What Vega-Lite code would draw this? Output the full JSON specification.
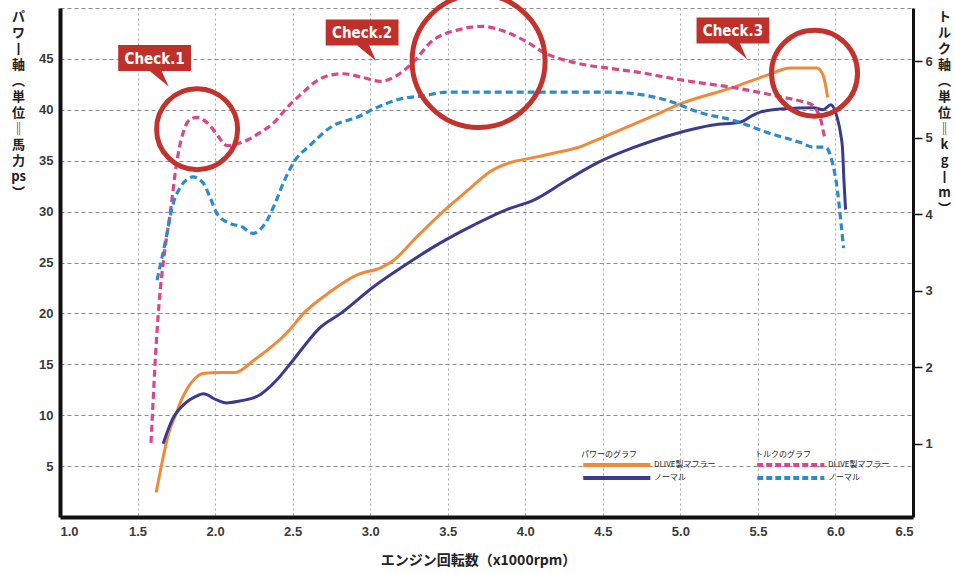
{
  "$schema": "https://vega.github.io/schema/vega-lite/v6.json",
  "width": 853,
  "height": 509,
  "autosize": "none",
  "padding": {"left": 60, "top": 8, "right": 42, "bottom": 56},
  "background": "white",
  "datasets": {
    "power": [
      {"rpm": 1.62, "ps": 2.4, "series": "DLIVE製マフラー"},
      {"rpm": 1.66, "ps": 5.5, "series": "DLIVE製マフラー"},
      {"rpm": 1.7, "ps": 8.2, "series": "DLIVE製マフラー"},
      {"rpm": 1.75, "ps": 10.2, "series": "DLIVE製マフラー"},
      {"rpm": 1.78, "ps": 11.4, "series": "DLIVE製マフラー"},
      {"rpm": 1.82, "ps": 12.6, "series": "DLIVE製マフラー"},
      {"rpm": 1.87, "ps": 13.6, "series": "DLIVE製マフラー"},
      {"rpm": 1.92, "ps": 14.1, "series": "DLIVE製マフラー"},
      {"rpm": 2.03, "ps": 14.2, "series": "DLIVE製マフラー"},
      {"rpm": 2.13, "ps": 14.2, "series": "DLIVE製マフラー"},
      {"rpm": 2.25, "ps": 15.4, "series": "DLIVE製マフラー"},
      {"rpm": 2.37, "ps": 16.8, "series": "DLIVE製マフラー"},
      {"rpm": 2.47, "ps": 18.2, "series": "DLIVE製マフラー"},
      {"rpm": 2.57, "ps": 20.0, "series": "DLIVE製マフラー"},
      {"rpm": 2.74, "ps": 22.1, "series": "DLIVE製マフラー"},
      {"rpm": 2.92, "ps": 23.8, "series": "DLIVE製マフラー"},
      {"rpm": 3.07, "ps": 24.5, "series": "DLIVE製マフラー"},
      {"rpm": 3.15, "ps": 25.2, "series": "DLIVE製マフラー"},
      {"rpm": 3.3, "ps": 27.5, "series": "DLIVE製マフラー"},
      {"rpm": 3.47, "ps": 30.0, "series": "DLIVE製マフラー"},
      {"rpm": 3.63, "ps": 32.1, "series": "DLIVE製マフラー"},
      {"rpm": 3.77, "ps": 33.9, "series": "DLIVE製マフラー"},
      {"rpm": 3.9, "ps": 34.8, "series": "DLIVE製マフラー"},
      {"rpm": 4.05, "ps": 35.3, "series": "DLIVE製マフラー"},
      {"rpm": 4.2, "ps": 35.8, "series": "DLIVE製マフラー"},
      {"rpm": 4.34, "ps": 36.3, "series": "DLIVE製マフラー"},
      {"rpm": 4.5, "ps": 37.3, "series": "DLIVE製マフラー"},
      {"rpm": 4.81, "ps": 39.3, "series": "DLIVE製マフラー"},
      {"rpm": 5.02, "ps": 40.7, "series": "DLIVE製マフラー"},
      {"rpm": 5.34, "ps": 42.2, "series": "DLIVE製マフラー"},
      {"rpm": 5.56, "ps": 43.4, "series": "DLIVE製マフラー"},
      {"rpm": 5.71, "ps": 44.1, "series": "DLIVE製マフラー"},
      {"rpm": 5.88, "ps": 44.1, "series": "DLIVE製マフラー"},
      {"rpm": 5.92, "ps": 43.4, "series": "DLIVE製マフラー"},
      {"rpm": 5.95, "ps": 41.2, "series": "DLIVE製マフラー"},
      {"rpm": 1.665, "ps": 7.2, "series": "ノーマル"},
      {"rpm": 1.7, "ps": 8.7, "series": "ノーマル"},
      {"rpm": 1.732, "ps": 9.8, "series": "ノーマル"},
      {"rpm": 1.77, "ps": 10.6, "series": "ノーマル"},
      {"rpm": 1.817, "ps": 11.3, "series": "ノーマル"},
      {"rpm": 1.87, "ps": 11.8, "series": "ノーマル"},
      {"rpm": 1.925, "ps": 12.1, "series": "ノーマル"},
      {"rpm": 2.01, "ps": 11.5, "series": "ノーマル"},
      {"rpm": 2.075, "ps": 11.2, "series": "ノーマル"},
      {"rpm": 2.16, "ps": 11.4, "series": "ノーマル"},
      {"rpm": 2.247, "ps": 11.7, "series": "ノーマル"},
      {"rpm": 2.29, "ps": 12.0, "series": "ノーマル"},
      {"rpm": 2.34, "ps": 12.6, "series": "ノーマル"},
      {"rpm": 2.4, "ps": 13.5, "series": "ノーマル"},
      {"rpm": 2.503, "ps": 15.4, "series": "ノーマル"},
      {"rpm": 2.58, "ps": 16.9, "series": "ノーマル"},
      {"rpm": 2.67, "ps": 18.5, "series": "ノーマル"},
      {"rpm": 2.81, "ps": 20.0, "series": "ノーマル"},
      {"rpm": 3.02, "ps": 22.6, "series": "ノーマル"},
      {"rpm": 3.24, "ps": 24.9, "series": "ノーマル"},
      {"rpm": 3.45, "ps": 26.9, "series": "ノーマル"},
      {"rpm": 3.67, "ps": 28.7, "series": "ノーマル"},
      {"rpm": 3.88, "ps": 30.2, "series": "ノーマル"},
      {"rpm": 4.05, "ps": 31.1, "series": "ノーマル"},
      {"rpm": 4.27, "ps": 33.1, "series": "ノーマル"},
      {"rpm": 4.48, "ps": 34.9, "series": "ノーマル"},
      {"rpm": 4.7, "ps": 36.3, "series": "ノーマル"},
      {"rpm": 4.98, "ps": 37.7, "series": "ノーマル"},
      {"rpm": 5.21, "ps": 38.5, "series": "ノーマル"},
      {"rpm": 5.39, "ps": 38.8, "series": "ノーマル"},
      {"rpm": 5.46, "ps": 39.4, "series": "ノーマル"},
      {"rpm": 5.52, "ps": 39.8, "series": "ノーマル"},
      {"rpm": 5.67, "ps": 40.1, "series": "ノーマル"},
      {"rpm": 5.86, "ps": 40.2, "series": "ノーマル"},
      {"rpm": 5.92, "ps": 40.0, "series": "ノーマル"},
      {"rpm": 5.97, "ps": 40.5, "series": "ノーマル"},
      {"rpm": 6.01, "ps": 39.3, "series": "ノーマル"},
      {"rpm": 6.035, "ps": 37.5, "series": "ノーマル"},
      {"rpm": 6.045, "ps": 36.3, "series": "ノーマル"},
      {"rpm": 6.055, "ps": 33.0, "series": "ノーマル"},
      {"rpm": 6.065, "ps": 30.2, "series": "ノーマル"}
    ],
    "torque": [
      {"rpm": 1.587, "kgm": 1.01, "series": "DLIVE製マフラー"},
      {"rpm": 1.6, "kgm": 1.54, "series": "DLIVE製マフラー"},
      {"rpm": 1.613, "kgm": 2.05, "series": "DLIVE製マフラー"},
      {"rpm": 1.639, "kgm": 2.84, "series": "DLIVE製マフラー"},
      {"rpm": 1.67, "kgm": 3.44, "series": "DLIVE製マフラー"},
      {"rpm": 1.71, "kgm": 4.01, "series": "DLIVE製マフラー"},
      {"rpm": 1.755, "kgm": 4.71, "series": "DLIVE製マフラー"},
      {"rpm": 1.806, "kgm": 5.14, "series": "DLIVE製マフラー"},
      {"rpm": 1.845, "kgm": 5.25, "series": "DLIVE製マフラー"},
      {"rpm": 1.884, "kgm": 5.27, "series": "DLIVE製マフラー"},
      {"rpm": 1.93, "kgm": 5.23, "series": "DLIVE製マフラー"},
      {"rpm": 1.968, "kgm": 5.16, "series": "DLIVE製マフラー"},
      {"rpm": 2.02, "kgm": 5.02, "series": "DLIVE製マフラー"},
      {"rpm": 2.077, "kgm": 4.9, "series": "DLIVE製マフラー"},
      {"rpm": 2.14, "kgm": 4.92, "series": "DLIVE製マフラー"},
      {"rpm": 2.206, "kgm": 4.97, "series": "DLIVE製マフラー"},
      {"rpm": 2.29, "kgm": 5.07, "series": "DLIVE製マフラー"},
      {"rpm": 2.374, "kgm": 5.19, "series": "DLIVE製マフラー"},
      {"rpm": 2.484, "kgm": 5.44, "series": "DLIVE製マフラー"},
      {"rpm": 2.548, "kgm": 5.56, "series": "DLIVE製マフラー"},
      {"rpm": 2.658, "kgm": 5.75, "series": "DLIVE製マフラー"},
      {"rpm": 2.74, "kgm": 5.82, "series": "DLIVE製マフラー"},
      {"rpm": 2.826, "kgm": 5.84, "series": "DLIVE製マフラー"},
      {"rpm": 2.955, "kgm": 5.79, "series": "DLIVE製マフラー"},
      {"rpm": 3.065, "kgm": 5.74, "series": "DLIVE製マフラー"},
      {"rpm": 3.174, "kgm": 5.82, "series": "DLIVE製マフラー"},
      {"rpm": 3.277, "kgm": 5.99, "series": "DLIVE製マフラー"},
      {"rpm": 3.406, "kgm": 6.28, "series": "DLIVE製マフラー"},
      {"rpm": 3.48, "kgm": 6.36, "series": "DLIVE製マフラー"},
      {"rpm": 3.561, "kgm": 6.41, "series": "DLIVE製マフラー"},
      {"rpm": 3.65, "kgm": 6.45, "series": "DLIVE製マフラー"},
      {"rpm": 3.729, "kgm": 6.46, "series": "DLIVE製マフラー"},
      {"rpm": 3.81, "kgm": 6.43, "series": "DLIVE製マフラー"},
      {"rpm": 3.884, "kgm": 6.38, "series": "DLIVE製マフラー"},
      {"rpm": 3.96, "kgm": 6.31, "series": "DLIVE製マフラー"},
      {"rpm": 4.032, "kgm": 6.23, "series": "DLIVE製マフラー"},
      {"rpm": 4.1, "kgm": 6.14, "series": "DLIVE製マフラー"},
      {"rpm": 4.161, "kgm": 6.08, "series": "DLIVE製マフラー"},
      {"rpm": 4.27, "kgm": 6.01, "series": "DLIVE製マフラー"},
      {"rpm": 4.374, "kgm": 5.96, "series": "DLIVE製マフラー"},
      {"rpm": 4.548, "kgm": 5.91, "series": "DLIVE製マフラー"},
      {"rpm": 4.787, "kgm": 5.84, "series": "DLIVE製マフラー"},
      {"rpm": 4.916, "kgm": 5.79, "series": "DLIVE製マフラー"},
      {"rpm": 5.13, "kgm": 5.72, "series": "DLIVE製マフラー"},
      {"rpm": 5.342, "kgm": 5.66, "series": "DLIVE製マフラー"},
      {"rpm": 5.5, "kgm": 5.6, "series": "DLIVE製マフラー"},
      {"rpm": 5.665, "kgm": 5.53, "series": "DLIVE製マフラー"},
      {"rpm": 5.78, "kgm": 5.48, "series": "DLIVE製マフラー"},
      {"rpm": 5.852, "kgm": 5.43, "series": "DLIVE製マフラー"},
      {"rpm": 5.885, "kgm": 5.34, "series": "DLIVE製マフラー"},
      {"rpm": 5.903, "kgm": 5.26, "series": "DLIVE製マフラー"},
      {"rpm": 5.92, "kgm": 5.1, "series": "DLIVE製マフラー"},
      {"rpm": 5.93, "kgm": 5.01, "series": "DLIVE製マフラー"},
      {"rpm": 1.626, "kgm": 3.14, "series": "ノーマル"},
      {"rpm": 1.69, "kgm": 3.75, "series": "ノーマル"},
      {"rpm": 1.723, "kgm": 4.09, "series": "ノーマル"},
      {"rpm": 1.774, "kgm": 4.35, "series": "ノーマル"},
      {"rpm": 1.815, "kgm": 4.45, "series": "ノーマル"},
      {"rpm": 1.858, "kgm": 4.49, "series": "ノーマル"},
      {"rpm": 1.923, "kgm": 4.41, "series": "ノーマル"},
      {"rpm": 1.97, "kgm": 4.21, "series": "ノーマル"},
      {"rpm": 2.013, "kgm": 4.01, "series": "ノーマル"},
      {"rpm": 2.097, "kgm": 3.88, "series": "ノーマル"},
      {"rpm": 2.17, "kgm": 3.84, "series": "ノーマル"},
      {"rpm": 2.245, "kgm": 3.75, "series": "ノーマル"},
      {"rpm": 2.29, "kgm": 3.8, "series": "ノーマル"},
      {"rpm": 2.335, "kgm": 3.92, "series": "ノーマル"},
      {"rpm": 2.39, "kgm": 4.16, "series": "ノーマル"},
      {"rpm": 2.44, "kgm": 4.41, "series": "ノーマル"},
      {"rpm": 2.51, "kgm": 4.69, "series": "ノーマル"},
      {"rpm": 2.61, "kgm": 4.9, "series": "ノーマル"},
      {"rpm": 2.761, "kgm": 5.16, "series": "ノーマル"},
      {"rpm": 2.916, "kgm": 5.27, "series": "ノーマル"},
      {"rpm": 3.045, "kgm": 5.4, "series": "ノーマル"},
      {"rpm": 3.194, "kgm": 5.51, "series": "ノーマル"},
      {"rpm": 3.342, "kgm": 5.55, "series": "ノーマル"},
      {"rpm": 3.497, "kgm": 5.6, "series": "ノーマル"},
      {"rpm": 4.0, "kgm": 5.6, "series": "ノーマル"},
      {"rpm": 4.5, "kgm": 5.6, "series": "ノーマル"},
      {"rpm": 4.697, "kgm": 5.58, "series": "ノーマル"},
      {"rpm": 4.916, "kgm": 5.49, "series": "ノーマル"},
      {"rpm": 5.129, "kgm": 5.33, "series": "ノーマル"},
      {"rpm": 5.342, "kgm": 5.23, "series": "ノーマル"},
      {"rpm": 5.561, "kgm": 5.07, "series": "ノーマル"},
      {"rpm": 5.774, "kgm": 4.94, "series": "ノーマル"},
      {"rpm": 5.858, "kgm": 4.88, "series": "ノーマル"},
      {"rpm": 5.935, "kgm": 4.88, "series": "ノーマル"},
      {"rpm": 5.981, "kgm": 4.67, "series": "ノーマル"},
      {"rpm": 6.013, "kgm": 4.31, "series": "ノーマル"},
      {"rpm": 6.032, "kgm": 3.96, "series": "ノーマル"},
      {"rpm": 6.052, "kgm": 3.56, "series": "ノーマル"}
    ],
    "circles": [
      {"check": "Check.1", "rpm": 1.884, "ps": 38.1},
      {"check": "Check.2", "rpm": 3.699, "ps": 44.8},
      {"check": "Check.3", "rpm": 5.865, "ps": 43.6}
    ],
    "checks": [
      {"check": "Check.1", "rpm": 1.61, "ps": 45.1},
      {"check": "Check.2", "rpm": 2.948, "ps": 47.6},
      {"check": "Check.3", "rpm": 5.339, "ps": 47.8}
    ]
  },
  "encoding": {
    "x": {
      "field": "rpm",
      "type": "quantitative",
      "scale": {"domain": [1, 6.5], "nice": false, "zero": false},
      "axis": {
        "values": [1, 1.5, 2, 2.5, 3, 3.5, 4, 4.5, 5, 5.5, 6, 6.5],
        "format": ".1f",
        "grid": true,
        "gridDash": [2, 3],
        "gridColor": "#a8a8a8",
        "ticks": false,
        "tickSize": 0,
        "labelPadding": 8,
        "domainWidth": 4,
        "title": "エンジン回転数（x1000rpm）",
        "titleX": 418,
        "titlePadding": 15
      }
    }
  },
  "layer": [
    {
      "data": {"name": "power"},
      "mark": {"type": "line", "strokeWidth": 3, "interpolate": "monotone"},
      "encoding": {
        "y": {
          "field": "ps",
          "type": "quantitative",
          "scale": {"domain": [0, 50], "nice": false},
          "axis": {
            "orient": "left",
            "values": [5, 10, 15, 20, 25, 30, 35, 40, 45, 50],
            "labelExpr": "datum.value == 50 ? '' : datum.label",
            "grid": true,
            "gridDash": [4, 3],
            "gridColor": "#8c8c8c",
            "ticks": false,
            "tickSize": 0,
            "labelPadding": 7,
            "domainWidth": 4,
            "title": ["パ", "ワ", "丨", "軸", "︵", "単", "位", "‖", "馬", "力", "ps", "︶"],
            "titleAngle": 0,
            "titleX": -42,
            "titleY": 2,
            "titleAlign": "center",
            "titleBaseline": "top",
            "titleLineHeight": 16,
            "titleFontSize": 13
          }
        },
        "color": {
          "field": "series",
          "type": "nominal",
          "scale": {"domain": ["DLIVE製マフラー", "ノーマル"], "range": ["#ef8a3a", "#3b3b8e"]},
          "legend": {
            "title": "パワーのグラフ",
            "orient": "none",
            "legendX": 521,
            "legendY": 443,
            "direction": "vertical",
            "symbolType": "M-1,0L23.5,0",
            "symbolSize": 30,
            "symbolStrokeWidth": 4,
            "rowPadding": -4,
            "labelOffset": 63
          }
        }
      }
    },
    {
      "data": {"name": "torque"},
      "mark": {"type": "line", "strokeWidth": 3.2, "strokeDash": [7, 4], "interpolate": "monotone"},
      "encoding": {
        "y": {
          "field": "kgm",
          "type": "quantitative",
          "scale": {"domain": [0.04, 6.7], "nice": false, "zero": false},
          "axis": {
            "orient": "right",
            "values": [1, 2, 3, 4, 5, 6],
            "grid": false,
            "ticks": true,
            "tickSize": 9,
            "tickWidth": 1.5,
            "tickColor": "#111",
            "labelPadding": 3,
            "domainWidth": 3,
            "title": ["ト", "ル", "ク", "軸", "︵", "単", "位", "‖", "k", "g", "丨", "m", "︶"],
            "titleAngle": 0,
            "titleX": 31,
            "titleY": 2,
            "titleAlign": "center",
            "titleBaseline": "top",
            "titleLineHeight": 16,
            "titleFontSize": 13
          }
        },
        "color": {
          "field": "series",
          "type": "nominal",
          "scale": {"domain": ["DLIVE製マフラー", "ノーマル"], "range": ["#d9468a", "#2a8ccc"]},
          "legend": {
            "title": "トルクのグラフ",
            "orient": "none",
            "legendX": 695,
            "legendY": 443,
            "direction": "vertical",
            "symbolType": "M-1,0L23.5,0",
            "symbolSize": 30,
            "symbolStrokeWidth": 4,
            "symbolDash": [6, 3],
            "rowPadding": -4,
            "labelOffset": 63
          }
        }
      }
    },
    {
      "data": {"name": "circles"},
      "transform": [{"filter": "datum.check == 'Check.1'"}],
      "mark": {"type": "point", "shape": "circle", "filled": false, "stroke": "#c3332d", "strokeWidth": 5, "opacity": 1, "size": 6561},
      "encoding": {
        "y": {"field": "ps", "type": "quantitative", "scale": {"domain": [0, 50], "nice": false}, "axis": null}
      }
    },
    {
      "data": {"name": "circles"},
      "transform": [{"filter": "datum.check == 'Check.2'"}],
      "mark": {"type": "point", "shape": "circle", "filled": false, "stroke": "#c3332d", "strokeWidth": 5, "opacity": 1, "size": 17689},
      "encoding": {
        "y": {"field": "ps", "type": "quantitative", "scale": {"domain": [0, 50], "nice": false}, "axis": null}
      }
    },
    {
      "data": {"name": "circles"},
      "transform": [{"filter": "datum.check == 'Check.3'"}],
      "mark": {"type": "point", "shape": "circle", "filled": false, "stroke": "#c3332d", "strokeWidth": 5, "opacity": 1, "size": 7396},
      "encoding": {
        "y": {"field": "ps", "type": "quantitative", "scale": {"domain": [0, 50], "nice": false}, "axis": null}
      }
    },
    {
      "data": {"name": "checks"},
      "mark": {
        "type": "point",
        "shape": "M-1.4,-0.5L1.4,-0.5L1.4,0.5L0.27,0.5L0.54,1.1L-0.19,0.5L-1.4,0.5Z",
        "filled": true,
        "fill": "#c0302b",
        "strokeWidth": 0,
        "size": 2704,
        "opacity": 1
      },
      "encoding": {
        "y": {"field": "ps", "type": "quantitative", "scale": {"domain": [0, 50], "nice": false}, "axis": null}
      }
    },
    {
      "data": {"name": "checks"},
      "mark": {
        "type": "text",
        "color": "white",
        "font": "DejaVu Sans Condensed, Liberation Sans Narrow, DejaVu Sans",
        "fontWeight": "bold",
        "fontSize": 15,
        "align": "center",
        "baseline": "middle",
        "dy": 1
      },
      "encoding": {
        "y": {"field": "ps", "type": "quantitative", "scale": {"domain": [0, 50], "nice": false}, "axis": null},
        "text": {"field": "check"}
      }
    }
  ],
  "resolve": {"scale": {"y": "independent", "color": "independent"}},
  "config": {
    "view": {"stroke": null},
    "font": "Noto Sans CJK JP",
    "axis": {
      "domainColor": "#111",
      "labelFont": "Liberation Sans",
      "labelFontSize": 13,
      "labelFontWeight": "bold",
      "labelColor": "#3a3a3a",
      "gridWidth": 1,
      "titleFont": "Noto Sans CJK JP",
      "titleFontSize": 14,
      "titleFontWeight": "bold",
      "titleColor": "#222"
    },
    "legend": {
      "titleFont": "Noto Sans CJK JP",
      "titleFontSize": 8,
      "titleFontWeight": "normal",
      "titleColor": "#222",
      "labelFont": "Noto Sans CJK JP",
      "labelFontSize": 8,
      "labelColor": "#222",
      "padding": 0,
      "titlePadding": 1
    }
  }
}
